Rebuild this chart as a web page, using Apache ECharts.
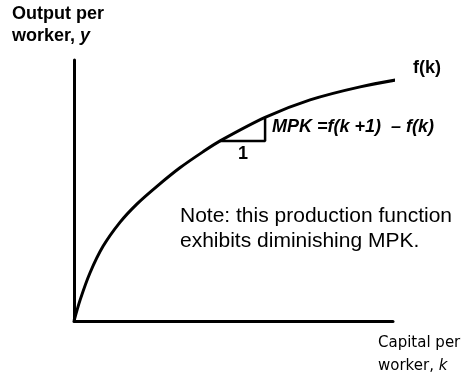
<!DOCTYPE html>
<html><head><meta charset="utf-8">
<script src="https://cdn.jsdelivr.net/npm/echarts@6/dist/echarts.min.js"></script>
<style>html,body{margin:0;padding:0;background:#fff}#c{width:468px;height:379px}</style>
</head><body><div id="c"></div>
<script>
// Production function f(k) (k, y in abstract units)
const curveK = [0, 0.19, 0.50, 0.91, 1.44, 1.97, 2.60, 3.32, 4.04, 4.58, 5.99, 7.40, 8.97, 10.44];
const curveY = [0, 0.80, 1.84, 2.86, 3.78, 4.48, 5.16, 5.87, 6.48, 6.90, 7.80, 8.47, 8.97, 9.31];
// MPK triangle: run of 1 unit (k -> k+1), rise to the curve
const triK = [4.58, 5.99, 5.99];
const triY = [6.90, 6.90, 7.80];
const labels = {
  yTitle: ['Output per', 'worker, '], yVar: 'y',
  xTitle: ['Capital per', 'worker, '], xVar: 'k',
  curve: 'f(k)', mpk: 'MPK =f(k +1)  \u2013 f(k)', run: '1',
  note: ['Note: this production function', 'exhibits diminishing MPK.']
};

const chart = echarts.init(document.getElementById('c'), null, {renderer: 'canvas'});
const F = 'Liberation Sans, Arial, sans-serif';
const F2 = 'DejaVu Sans, Tahoma, sans-serif';
chart.setOption({
  animation: false,
  grid: {left: 74, right: 75, top: 60, bottom: 58},
  xAxis: {type: 'value', min: 0, max: 10, axisLine: {show: true, onZero: false, lineStyle: {color: '#000', width: 3}},
    axisTick: {show: false}, axisLabel: {show: false}, splitLine: {show: false}},
  yAxis: {type: 'value', min: 0, max: 10, axisLine: {show: true, onZero: false, lineStyle: {color: '#000', width: 3}},
    axisTick: {show: false}, axisLabel: {show: false}, splitLine: {show: false}},
  series: [
    {type: 'line', data: curveK.map((k, i) => [k, curveY[i]]), smooth: 0.3, showSymbol: false, clip: false,
      lineStyle: {color: '#000', width: 3}},
    {type: 'line', data: triK.map((k, i) => [k, triY[i]]), showSymbol: false, clip: false,
      lineStyle: {color: '#000', width: 2.5}}
  ],
  graphic: [
    {type: 'text', left: 12, top: 5, style: {text: labels.yTitle[0], font: 'bold 18px ' + F, fill: '#000'}},
    {type: 'text', left: 12, top: 27, style: {text: '{a|' + labels.yTitle[1] + '}{b|' + labels.yVar + '}',
      rich: {a: {font: 'bold 18px ' + F, fill: '#000'}, b: {font: 'italic bold 18px ' + F, fill: '#000'}}}},
    {type: 'text', left: 378, top: 336, style: {text: labels.xTitle[0], font: '15px ' + F2, fill: '#000'}},
    {type: 'text', left: 378, top: 359, style: {text: '{a|' + labels.xTitle[1] + '}{b|' + labels.xVar + '}',
      rich: {a: {font: '15px ' + F2, fill: '#000'}, b: {font: 'italic 15px ' + F2, fill: '#000'}}}},
    {type: 'text', left: 413, top: 59, style: {text: labels.curve, font: 'bold 18px ' + F, fill: '#000'}},
    {type: 'text', left: 272, top: 118, style: {text: labels.mpk, font: 'italic bold 18px ' + F, fill: '#000'}},
    {type: 'text', left: 238, top: 145, style: {text: labels.run, font: 'bold 18px ' + F, fill: '#000'}},
    {type: 'text', left: 180, top: 206, style: {text: labels.note[0], font: '21px ' + F, fill: '#000'}},
    {type: 'text', left: 180, top: 231, style: {text: labels.note[1], font: '21px ' + F, fill: '#000'}}
  ]
});
</script></body></html>
